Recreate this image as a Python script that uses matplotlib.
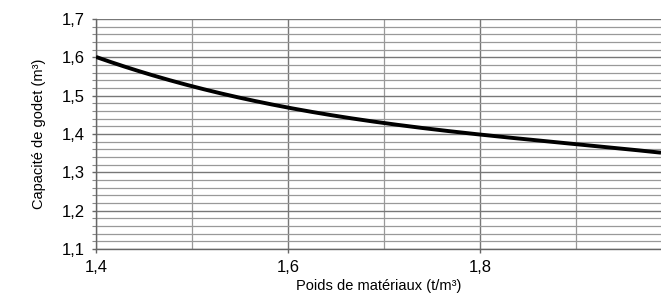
import matplotlib.pyplot as plt
import numpy as np
from matplotlib.ticker import MultipleLocator, FuncFormatter

# values
poids = [1.4, 1.5, 1.6, 1.7, 1.8, 1.9, 1.988]
capacite = [1.602, 1.522, 1.470, 1.430, 1.398, 1.372, 1.352]

plt.rcParams['font.family'] = ['Liberation Sans', 'DejaVu Sans']

fig = plt.figure(figsize=(6.61, 2.99), dpi=100)
ax = fig.add_axes([0.1452, 0.1672, 0.8548, 0.7693])

# smooth the curve through the read points
xs = np.linspace(poids[0], poids[-1], 200)
coef = np.polyfit(poids, capacite, 3)
ax.plot(xs, np.polyval(coef, xs), color='black', lw=2.8, solid_capstyle='butt', zorder=3)

ax.set_xlim(1.4, 1.988)
ax.set_ylim(1.1, 1.7)
ax.xaxis.set_major_locator(MultipleLocator(0.2))
ax.xaxis.set_minor_locator(MultipleLocator(0.1))
ax.yaxis.set_major_locator(MultipleLocator(0.1))
ax.yaxis.set_minor_locator(MultipleLocator(0.02))
fmt = FuncFormatter(lambda v, p: f"{v:.1f}".replace('.', ','))
ax.xaxis.set_major_formatter(fmt)
ax.yaxis.set_major_formatter(fmt)

ax.grid(which='major', color='#777777', lw=1.0)
ax.grid(which='minor', color='#999999', lw=0.9)
ax.set_axisbelow(True)

for s in ['top', 'right']:
    ax.spines[s].set_visible(False)
for s in ['left', 'bottom']:
    ax.spines[s].set_color('#666666')
    ax.spines[s].set_linewidth(1.0)

ax.tick_params(which='major', length=3, width=1, color='#666666', labelsize=12, pad=5)
ax.tick_params(axis='y', which='minor', length=3, width=0.8, color='#888888')
ax.tick_params(axis='x', which='minor', length=0)

ax.set_xlabel('Poids de matériaux (t/m³)', fontsize=10.5, labelpad=3)
ax.set_ylabel('Capacité de godet (m³)', fontsize=10.5, labelpad=11)

fig.savefig('out.png', dpi=100)
